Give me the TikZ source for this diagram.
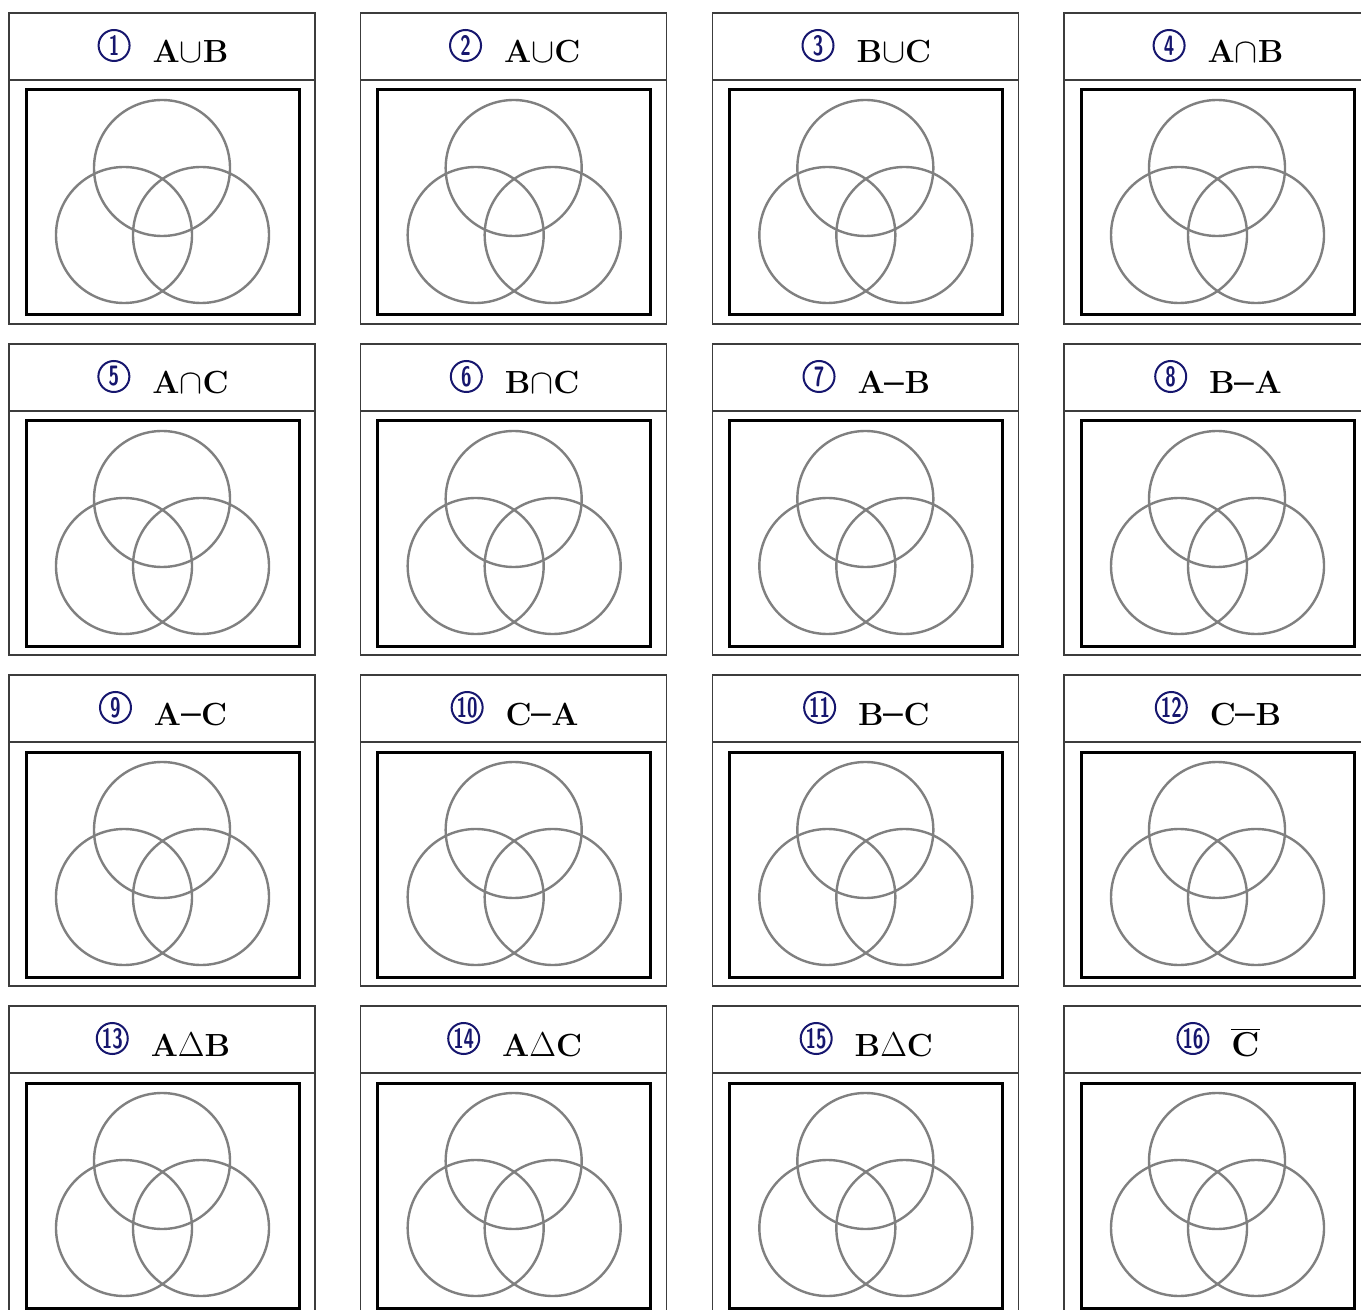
\documentclass[tikz,border=0pt]{standalone}
\usepackage{tikz}
\usepackage{graphicx}
\usetikzlibrary{positioning}
\definecolor{vnnavy}{HTML}{16166E}
\definecolor{vngray}{HTML}{808080}
\definecolor{vnframe}{HTML}{3C3C3C}

% circled index number
\newcommand{\cnum}[1]{\tikz[baseline={([yshift=-0.5pt]cn.south)}]\node[circle, draw=vnnavy, line width=1pt,
  inner sep=0pt, minimum size=15.5pt, text=vnnavy, font=\sffamily\bfseries\fontsize{14}{14}\selectfont]
  (cn) {\scalebox{0.68}[1]{#1}};}
% thick set difference dash
\newcommand{\sdiff}{\raisebox{-5pt}{\scalebox{1.1}[2.2]{--}}}

\begin{document}
\begin{tikzpicture}[
  x=0.5pt, y=-0.5pt,
  cellbox/.style={draw=vnframe, line width=0.75pt},
  universe/.style={draw=black, line width=1.5pt},
  setring/.style={draw=vngray, line width=1.2pt},
  hdr/.style={anchor=base, font=\bfseries\fontsize{16}{19}\selectfont, inner sep=0pt}
]
\clip (0,0) rectangle (1361,1310);
\fill[white] (0,0) rectangle (1361,1310);
\foreach \i/\lbl in {1/A$\cup$B, 2/A$\cup$C, 3/B$\cup$C, 4/A$\cap$B,
    5/A$\cap$C, 6/B$\cap$C, 7/A\sdiff B, 8/B\sdiff A,
    9/A\sdiff C, 10/C\sdiff A, 11/B\sdiff C, 12/C\sdiff B,
    13/A$\Delta$B, 14/A$\Delta$C, 15/B$\Delta$C, 16/$\overline{\mathbf{C}}$} {
  \pgfmathsetmacro{\cx}{9+351.67*mod(\i-1,4)}
  \pgfmathsetmacro{\cy}{13+331*floor((\i-1)/4)}
  \begin{scope}[shift={(\cx,\cy)}]
    \draw[cellbox] (0,0) rectangle (306,311);
    \draw[cellbox] (0,67) -- (306,67);
    \node[hdr] (hd\i) at (154,50) {\cnum{\i}\hspace{11pt}\lbl};
    \draw[universe] (17,77) rectangle (290,302);
    % sets A, B, C
    \draw[setring] (153,155) circle[radius=34pt];
    \draw[setring] (115,222) circle[radius=34pt];
    \draw[setring] (192,222) circle[radius=34pt];
  \end{scope}
}
\end{tikzpicture}
\end{document}
